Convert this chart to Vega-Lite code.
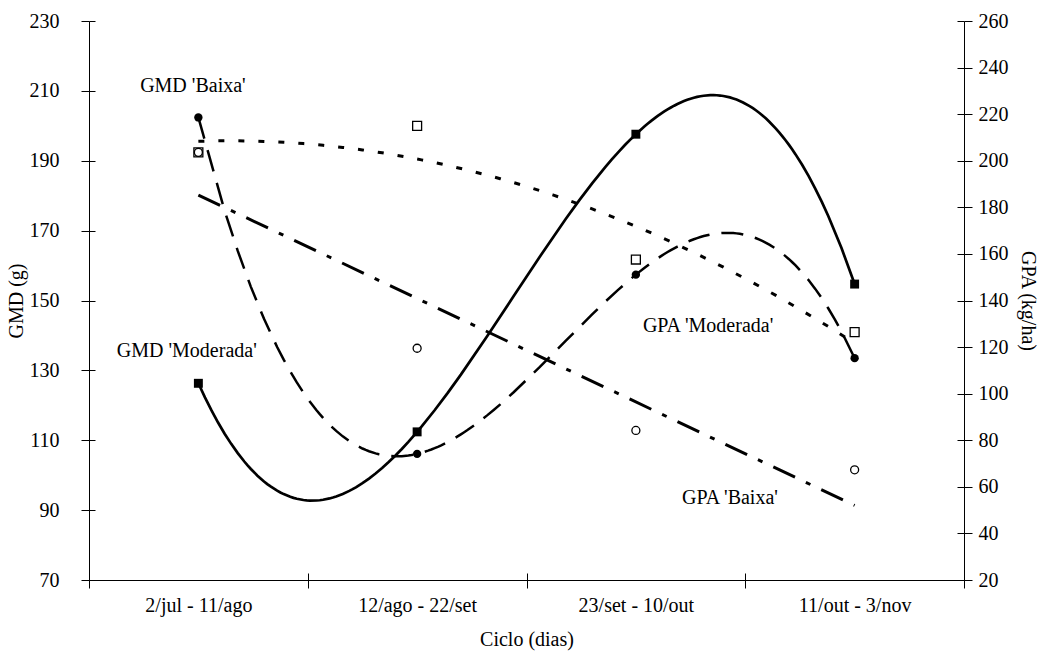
{
  "$schema": "https://vega.github.io/schema/vega-lite/v6.json",
  "width": 875,
  "height": 559,
  "autosize": {"type": "none"},
  "padding": {"left": 89, "top": 21, "right": 76, "bottom": 80},
  "background": "white",
  "config": {
    "view": {"stroke": null},
    "font": "Liberation Serif",
    "axis": {
      "domainColor": "black",
      "tickColor": "black",
      "labelColor": "black",
      "titleColor": "black",
      "labelFont": "Liberation Serif",
      "titleFont": "Liberation Serif",
      "labelFontSize": 20,
      "titleFontSize": 20,
      "titleFontWeight": "normal",
      "domainWidth": 1,
      "tickWidth": 1,
      "tickSize": 8,
      "grid": false
    }
  },
  "datasets": {
    "pts": [
      {"serie": "GMD Baixa", "i": 1, "ciclo": "2/jul - 11/ago", "v": 202.4},
      {"serie": "GMD Baixa", "i": 2, "ciclo": "12/ago - 22/set", "v": 106.1},
      {"serie": "GMD Baixa", "i": 3, "ciclo": "23/set - 10/out", "v": 157.4},
      {"serie": "GMD Baixa", "i": 4, "ciclo": "11/out - 3/nov", "v": 133.5},
      {"serie": "GMD Moderada", "i": 1, "ciclo": "2/jul - 11/ago", "v": 126.3},
      {"serie": "GMD Moderada", "i": 2, "ciclo": "12/ago - 22/set", "v": 112.4},
      {"serie": "GMD Moderada", "i": 3, "ciclo": "23/set - 10/out", "v": 197.6},
      {"serie": "GMD Moderada", "i": 4, "ciclo": "11/out - 3/nov", "v": 154.7},
      {"serie": "GPA Moderada", "i": 1, "ciclo": "2/jul - 11/ago", "v": 203.6},
      {"serie": "GPA Moderada", "i": 2, "ciclo": "12/ago - 22/set", "v": 215.0},
      {"serie": "GPA Moderada", "i": 3, "ciclo": "23/set - 10/out", "v": 157.6},
      {"serie": "GPA Moderada", "i": 4, "ciclo": "11/out - 3/nov", "v": 126.4},
      {"serie": "GPA Baixa", "i": 1, "ciclo": "2/jul - 11/ago", "v": 203.6},
      {"serie": "GPA Baixa", "i": 2, "ciclo": "12/ago - 22/set", "v": 119.5},
      {"serie": "GPA Baixa", "i": 3, "ciclo": "23/set - 10/out", "v": 84.2},
      {"serie": "GPA Baixa", "i": 4, "ciclo": "11/out - 3/nov", "v": 67.3}
    ],
    "rotulos_gmd": [
      {"rotulo": "GMD 'Baixa'", "i": 0.975, "v": 211.5},
      {"rotulo": "GMD 'Moderada'", "i": 0.947, "v": 135.6}
    ],
    "rotulos_gpa": [
      {"rotulo": "GPA 'Moderada'", "i": 3.33, "v": 129.2},
      {"rotulo": "GPA 'Baixa'", "i": 3.43, "v": 55}
    ]
  },
  "layer": [
    {
      "data": {"name": "pts"},
      "layer": [
        {
          "encoding": {
            "x": {
              "field": "i",
              "type": "quantitative",
              "scale": {"domain": [0.5, 4.5], "nice": false, "zero": false},
              "axis": {
                "orient": "bottom",
                "values": [0.5, 1.5, 2.5, 3.5, 4.5],
                "labelExpr": "datum.value == 0.5 ? '2/jul - 11/ago' : datum.value == 1.5 ? '12/ago - 22/set' : datum.value == 2.5 ? '23/set - 10/out' : datum.value == 3.5 ? '11/out - 3/nov' : ''",
                "labelOffset": 109.375,
                "labelFlush": false,
                "labelOverlap": false,
                "labelPadding": 7,
                "title": "Ciclo (dias)",
                "titlePadding": 14
              }
            },
            "y": {
              "field": "v",
              "type": "quantitative",
              "scale": {"domain": [70, 230], "nice": false, "zero": false},
              "axis": {
                "orient": "left",
                "values": [70, 90, 110, 130, 150, 170, 190, 210, 230],
                "title": "GMD (g)",
                "labelPadding": 22,
                "titlePadding": 3
              }
            }
          },
          "layer": [
            {
              "transform": [
                {"filter": "datum.serie == 'GMD Baixa'"},
                {"regression": "v", "on": "i", "method": "poly", "order": 3}
              ],
              "mark": {"type": "line", "color": "black", "strokeWidth": 2.5, "strokeDash": [22, 12]}
            },
            {
              "transform": [{"filter": "datum.serie == 'GMD Baixa'"}],
              "mark": {"type": "point", "shape": "circle", "filled": true, "color": "black", "size": 70, "opacity": 1}
            },
            {
              "data": {"name": "rotulos_gmd"},
              "mark": {"type": "text", "align": "center", "baseline": "middle", "font": "Liberation Serif", "fontSize": 20, "color": "black"},
              "encoding": {"text": {"field": "rotulo", "type": "nominal"}}
            }
          ]
        },
        {
          "encoding": {
            "x": {
              "field": "i",
              "type": "quantitative",
              "scale": {"domain": [0.5, 4.5], "nice": false, "zero": false},
              "axis": {
                "orient": "bottom",
                "values": [0.5, 1.5, 2.5, 3.5, 4.5],
                "labels": false,
                "domain": false,
                "tickSize": -7,
                "title": null
              }
            },
            "y": {
              "field": "v",
              "type": "quantitative",
              "scale": {"domain": [70, 230], "nice": false, "zero": false},
              "axis": {
                "orient": "left",
                "values": [70, 90, 110, 130, 150, 170, 190, 210, 230],
                "labels": false,
                "domain": false,
                "tickSize": -6,
                "title": null
              }
            }
          },
          "layer": [
            {
              "transform": [
                {"filter": "datum.serie == 'GMD Moderada'"},
                {"regression": "v", "on": "i", "method": "poly", "order": 3}
              ],
              "mark": {"type": "line", "color": "black", "strokeWidth": 2.7}
            },
            {
              "transform": [{"filter": "datum.serie == 'GMD Moderada'"}],
              "mark": {"type": "point", "shape": "square", "filled": true, "color": "black", "size": 80, "opacity": 1}
            }
          ]
        }
      ],
      "resolve": {"axis": {"x": "independent", "y": "independent"}}
    },
    {
      "data": {"name": "pts"},
      "layer": [
        {
          "encoding": {
            "x": {
              "field": "i",
              "type": "quantitative",
              "scale": {"domain": [0.5, 4.5], "nice": false, "zero": false},
              "axis": null
            },
            "y": {
              "field": "v",
              "type": "quantitative",
              "scale": {"domain": [20, 260], "nice": false, "zero": false},
              "axis": {
                "orient": "right",
                "values": [20, 40, 60, 80, 100, 120, 140, 160, 180, 200, 220, 240, 260],
                "title": "GPA (kg/ha)",
                "labelPadding": 6,
                "titlePadding": 9
              }
            }
          },
          "layer": [
            {
              "transform": [
                {"filter": "datum.serie == 'GPA Moderada'"},
                {"regression": "v", "on": "i", "method": "poly", "order": 2}
              ],
              "mark": {"type": "line", "color": "black", "strokeWidth": 3, "strokeDash": [6, 14]}
            },
            {
              "transform": [
                {"filter": "datum.serie == 'GPA Baixa'"},
                {"regression": "v", "on": "i", "method": "linear"}
              ],
              "mark": {"type": "line", "color": "black", "strokeWidth": 3, "strokeDash": [24, 12, 5, 12]}
            },
            {
              "transform": [{"filter": "datum.serie == 'GPA Moderada'"}],
              "mark": {"type": "point", "shape": "square", "filled": false, "color": "black", "size": 80, "strokeWidth": 1.3, "opacity": 1, "fill": "white", "fillOpacity": 1}
            }
          ]
        },
        {
          "encoding": {
            "x": {
              "field": "i",
              "type": "quantitative",
              "scale": {"domain": [0.5, 4.5], "nice": false, "zero": false},
              "axis": null
            },
            "y": {
              "field": "v",
              "type": "quantitative",
              "scale": {"domain": [20, 260], "nice": false, "zero": false},
              "axis": {
                "orient": "right",
                "values": [20, 40, 60, 80, 100, 120, 140, 160, 180, 200, 220, 240, 260],
                "labels": false,
                "domain": false,
                "tickSize": -7,
                "title": null
              }
            }
          },
          "layer": [
            {
              "transform": [{"filter": "datum.serie == 'GPA Baixa'"}],
              "mark": {"type": "point", "shape": "circle", "filled": false, "color": "black", "size": 64, "strokeWidth": 1.3, "opacity": 1}
            },
            {
              "data": {"name": "rotulos_gpa"},
              "mark": {"type": "text", "align": "center", "baseline": "middle", "font": "Liberation Serif", "fontSize": 20, "color": "black"},
              "encoding": {"text": {"field": "rotulo", "type": "nominal"}}
            }
          ]
        }
      ],
      "resolve": {"axis": {"y": "independent"}}
    }
  ],
  "resolve": {"scale": {"y": "independent"}}
}
